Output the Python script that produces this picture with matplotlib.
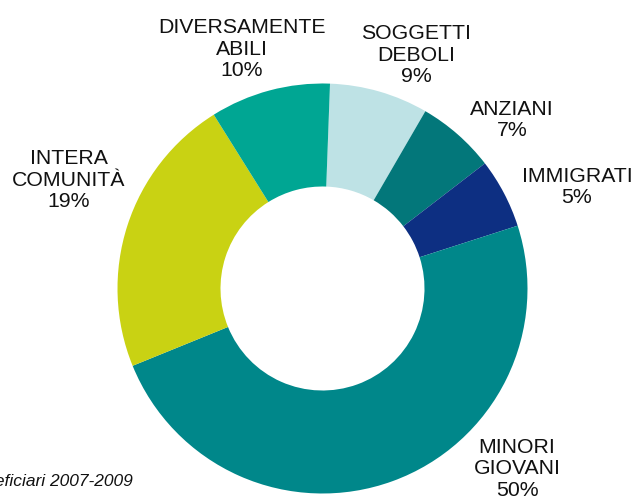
import matplotlib
matplotlib.use('Agg')
import matplotlib.pyplot as plt

plt.rcParams['font.family'] = ['Liberation Sans', 'DejaVu Sans']

# categories in clockwise order starting at the top
categorie = ['SOGGETTI\nDEBOLI', 'ANZIANI', 'IMMIGRATI', 'MINORI\nGIOVANI',
             'INTERA\nCOMUNITÀ', 'DIVERSAMENTE\nABILI']
percentuali = ['9%', '7%', '5%', '50%', '19%', '10%']
# slice sizes as drawn in the picture
quote = [7.8, 6.2, 5.5, 48.9, 22.3, 9.5]
colori = ['#bee2e5', '#03777a', '#0d2f82', '#00878a', '#c9d213', '#00a693']

W, H = 632, 499
fig = plt.figure(figsize=(W / 100, H / 100), dpi=100)
ax = fig.add_axes([0, 0, 1, 1])

# pixel coords -> data coords (y up)
def py(y):
    return H - y

ax.pie(quote, colors=colori, startangle=87.9, counterclock=False,
       center=(322.5, py(288.5)), radius=205,
       wedgeprops=dict(width=103, edgecolor='none'))

ax.set_xlim(0, W)
ax.set_ylim(0, H)
ax.set_aspect('equal')
ax.axis('off')

# label positions (centre of the middle line / block) in image pixels
pos = [(416, 55), (512, 120), (577, 187), (517, 469), (69, 180), (242, 49)]
fs = 15.3
for cat, pc, (x, y) in zip(categorie, percentuali, pos):
    ax.text(x, py(y), cat + '\n' + pc, ha='center', va='center',
            fontsize=fs, color='#111111', linespacing=1.15)

ax.text(133, py(481), 'Beneficiari 2007-2009', ha='right', va='center',
        fontsize=12.5, style='italic', color='#111111')

fig.savefig('out.png', dpi=100)
